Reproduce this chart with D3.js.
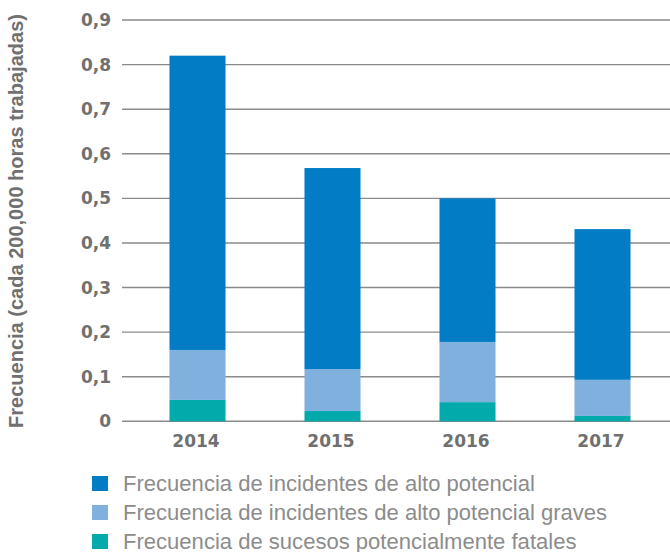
<!DOCTYPE html>
<html>
<head>
<meta charset="utf-8">
<script src="https://cdn.jsdelivr.net/npm/d3@7"></script>
<style>
  body { margin: 0; background: #fff; }
  text { font-family: "Liberation Sans", Arial, sans-serif; }
</style>
</head>
<body>
<script>
// Data
const years = ['2014', '2015', '2016', '2017'];
const fatales = [0.048, 0.023, 0.043, 0.012];
const graves = [0.112, 0.094, 0.135, 0.081];
const alto = [0.66, 0.451, 0.322, 0.338];
const yTicks = [0, 0.1, 0.2, 0.3, 0.4, 0.5, 0.6, 0.7, 0.8, 0.9];

const seriesNames = [
  'Frecuencia de incidentes de alto potencial',
  'Frecuencia de incidentes de alto potencial graves',
  'Frecuencia de sucesos potencialmente fatales'
];
const seriesKeys = ['fatales', 'graves', 'alto'];
const colors = { alto: '#037cc6', graves: '#7fb0de', fatales: '#02aaac' };

const width = 670;
const height = 552;

const rows = years.map((y, i) => ({ year: y, fatales: fatales[i], graves: graves[i], alto: alto[i] }));

const svg = d3.select('body').append('svg')
  .attr('width', width)
  .attr('height', height);

const x = d3.scaleBand()
  .domain(years)
  .range([130, 670])
  .paddingInner(0.585)
  .paddingOuter(0.2925);

const y = d3.scaleLinear()
  .domain([0, 0.9])
  .range([421.3, 20]);

// fit a text element's font size so its length matches a target width
function fitText(sel, target) {
  const node = sel.node();
  const fs = +sel.attr('font-size');
  const len = node.getComputedTextLength();
  sel.attr('font-size', (fs * target / len).toFixed(2));
}

// gridlines
svg.append('g')
  .selectAll('line')
  .data(yTicks)
  .join('line')
  .attr('x1', 122)
  .attr('x2', width)
  .attr('y1', d => y(d))
  .attr('y2', d => y(d))
  .attr('stroke', '#8a8a8a')
  .attr('stroke-width', 1.4);

// y tick labels
const numFont = '"DejaVu Sans", sans-serif';
const fmt = d => d === 0 ? '0' : d3.format('.1f')(d).replace('.', ',');
svg.append('g')
  .selectAll('text')
  .data(yTicks)
  .join('text')
  .attr('x', 111)
  .attr('y', d => y(d))
  .attr('dy', '0.36em')
  .attr('text-anchor', 'end')
  .attr('font-size', 17)
  .attr('font-weight', 'bold')
  .style('font-family', numFont)
  .attr('fill', '#707070')
  .text(fmt);

// stacked bars
const stack = d3.stack().keys(seriesKeys)(rows);
svg.append('g')
  .selectAll('g')
  .data(stack)
  .join('g')
  .attr('fill', d => colors[d.key])
  .selectAll('rect')
  .data(d => d)
  .join('rect')
  .attr('x', d => x(d.data.year))
  .attr('width', x.bandwidth())
  .attr('y', d => y(d[1]))
  .attr('height', d => y(d[0]) - y(d[1]));

// x labels
svg.append('g')
  .selectAll('text')
  .data(years)
  .join('text')
  .attr('x', d => x(d) + x.bandwidth() / 2 - 1.5)
  .attr('y', 447)
  .attr('text-anchor', 'middle')
  .attr('font-size', 17)
  .attr('font-weight', 'bold')
  .style('font-family', numFont)
  .attr('fill', '#707070')
  .text(d => d);

// y axis title
const title = svg.append('text')
  .attr('transform', 'translate(23,221) rotate(-90)')
  .attr('text-anchor', 'middle')
  .attr('font-size', 17)
  .attr('font-weight', 'bold')
  .attr('fill', '#707070')
  .text('Frecuencia (cada 200,000 horas trabajadas)');
fitText(title, 414);

// legend
const legendKeys = ['alto', 'graves', 'fatales'];
const legend = svg.append('g')
  .selectAll('g')
  .data(legendKeys)
  .join('g')
  .attr('transform', (d, i) => `translate(92,${476 + i * 29})`);

legend.append('rect')
  .attr('width', 16)
  .attr('height', 15)
  .attr('fill', d => colors[d]);

const legendText = legend.append('text')
  .attr('x', 31)
  .attr('y', 14.5)
  .attr('font-size', 20)
  .attr('fill', '#8c8c8c')
  .text((d, i) => seriesNames[i]);

// first legend line is ~412px wide in the reference
const lfs = 20 * 412 / legendText.nodes()[0].getComputedTextLength();
legendText.attr('font-size', lfs.toFixed(2));
</script>
</body>
</html>
